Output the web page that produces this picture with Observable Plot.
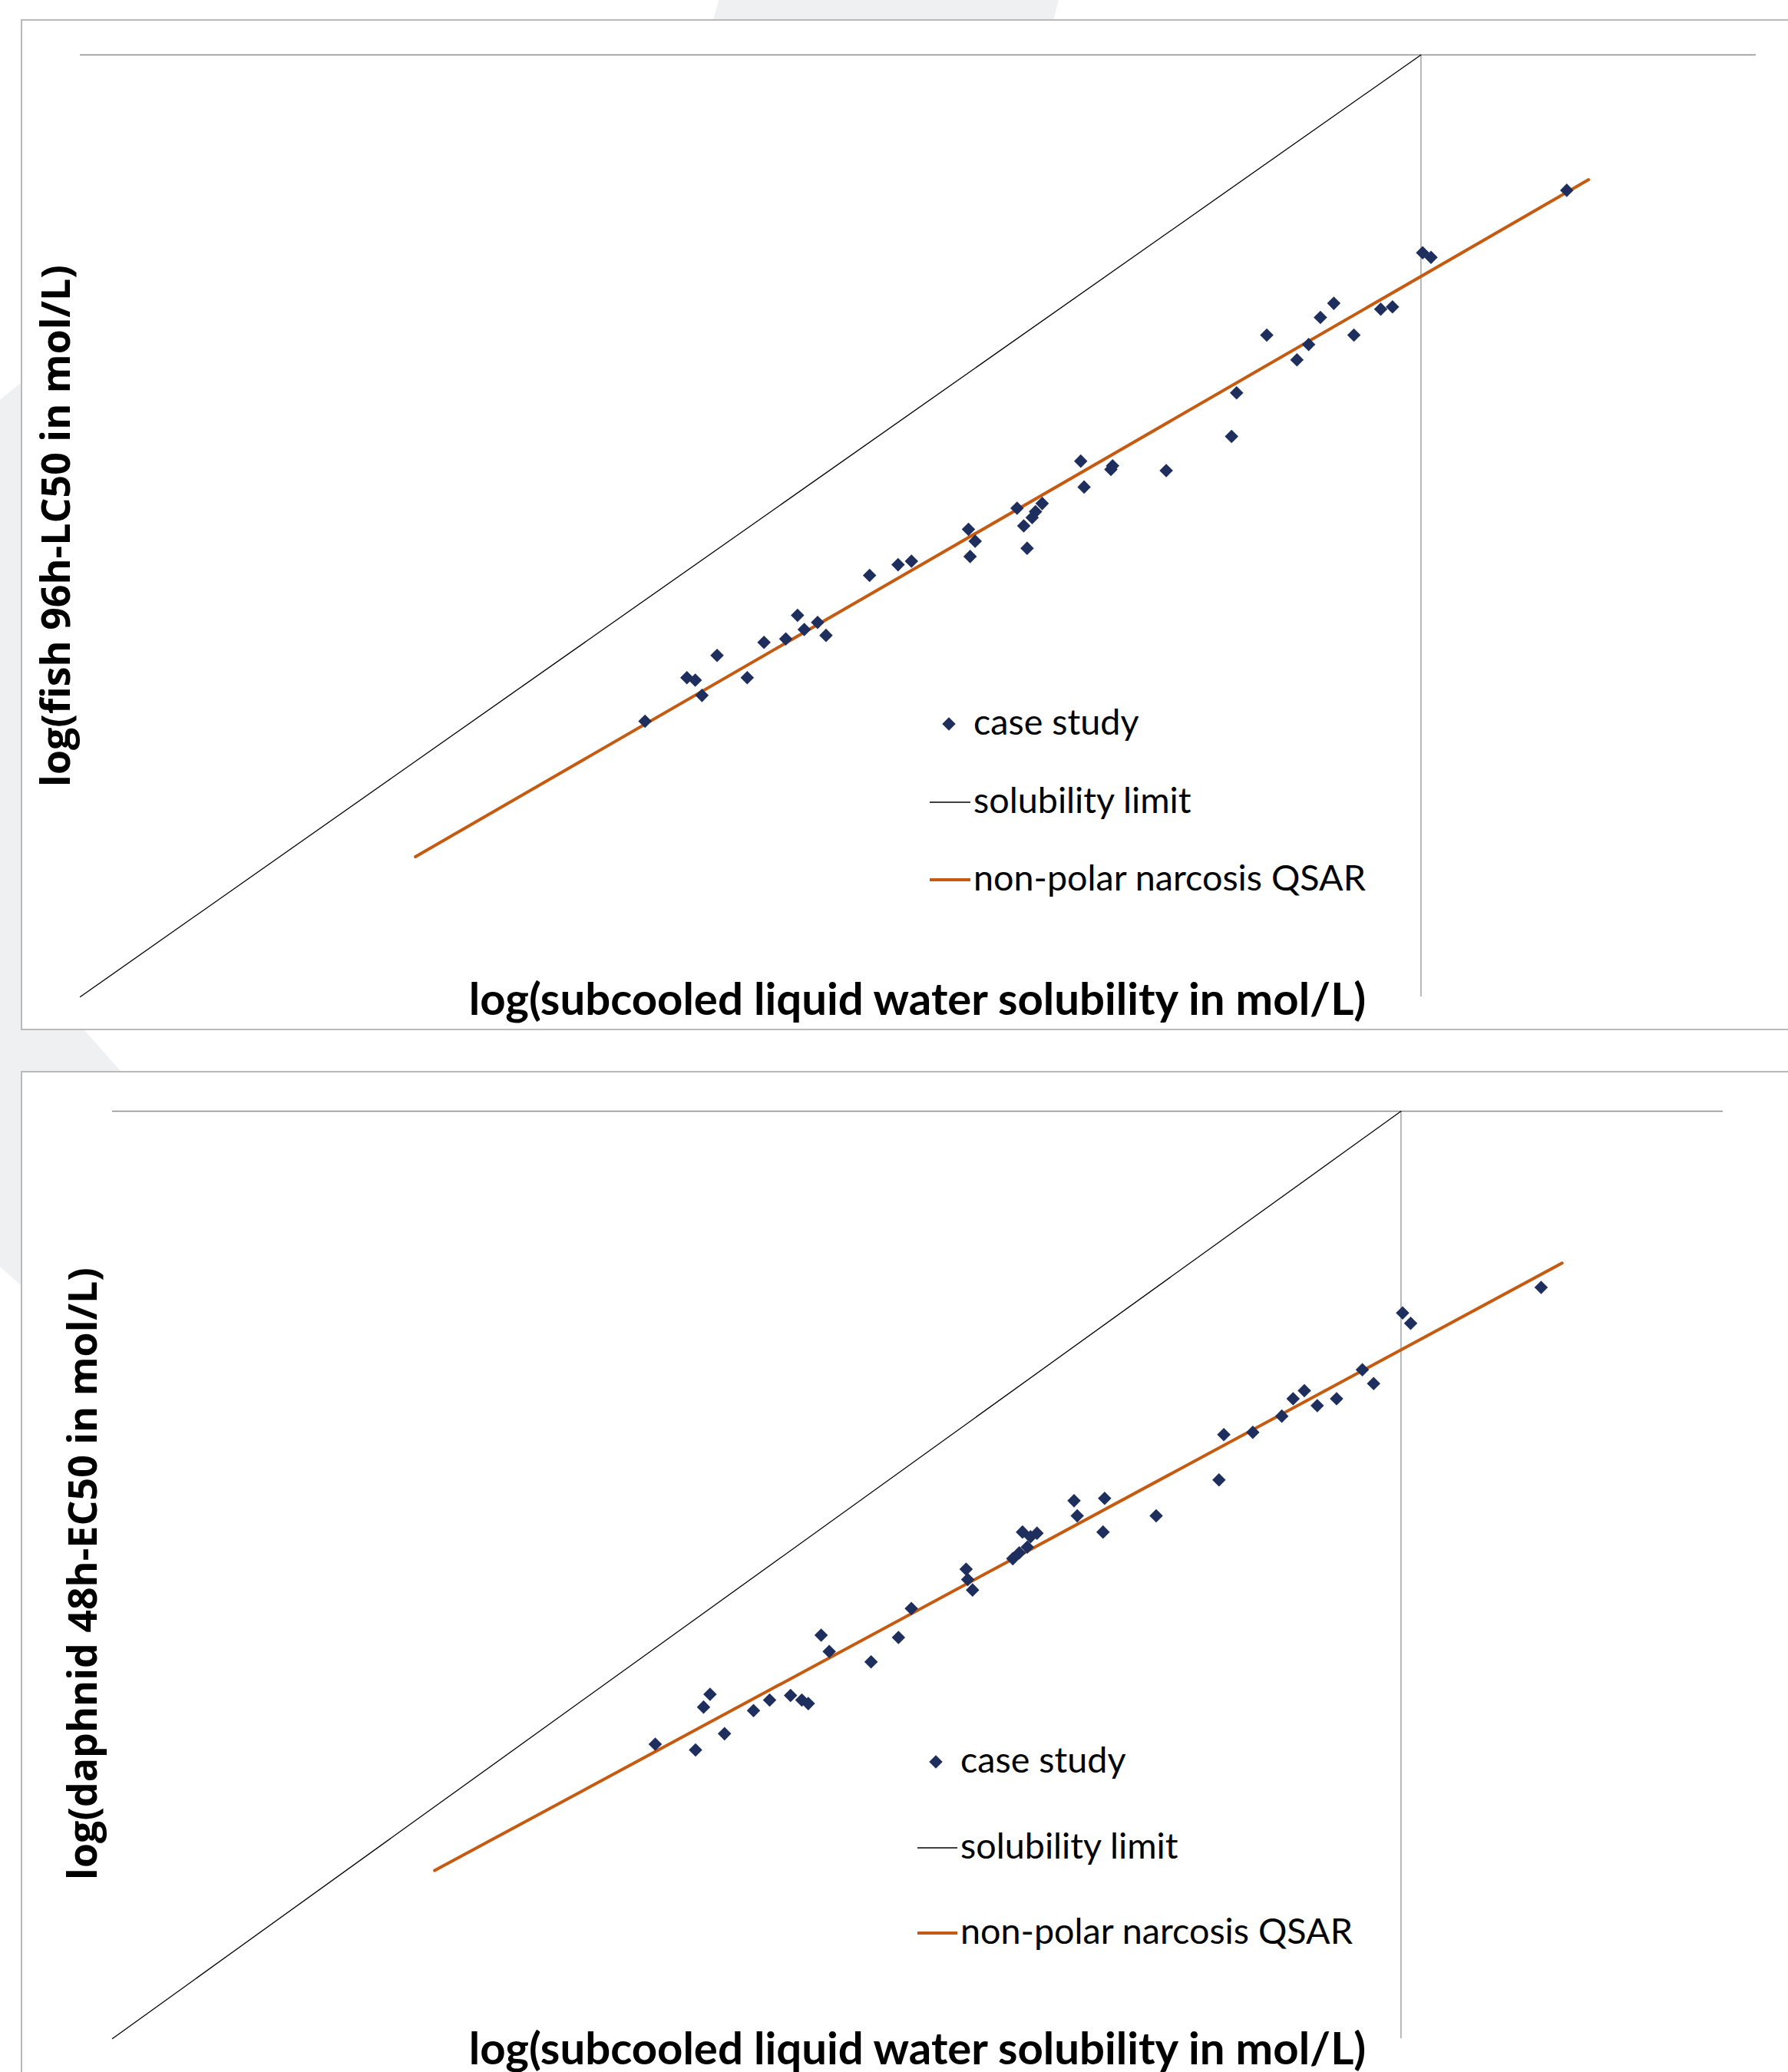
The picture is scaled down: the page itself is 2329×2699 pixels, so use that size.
<!DOCTYPE html>
<html>
<head>
<meta charset="utf-8">
<script src="https://cdn.jsdelivr.net/npm/d3@7"></script>
<script src="https://cdn.jsdelivr.net/npm/@observablehq/plot@0.6"></script>
<style>
  html, body { margin: 0; padding: 0; background: #ffffff; overflow: hidden; }
  #page { position: relative; width: 2329px; height: 2699px; overflow: hidden; background: #ffffff; }
  #page svg { position: absolute; left: 0; }
</style>
</head>
<body>
<div id="page"></div>
<script>
// ---------------- data ----------------
// shared x: log(subcooled liquid water solubility in mol/L), same substances in both panels
const logSw = [-4.63, -4.38, -4.33, -4.29, -4.20, -4.02, -3.92, -3.79, -3.72, -3.68,
               -3.60, -3.55, -3.29, -3.12, -3.04, -2.70, -2.69, -2.66, -2.41, -2.37,
               -2.35, -2.32, -2.30, -2.26, -2.03, -2.01, -1.85, -1.84, -1.52, -1.13,
               -1.10, -0.92, -0.74, -0.67, -0.60, -0.52, -0.40, -0.24, -0.17, 0.01,
               0.06, 0.87];
// log(fish 96h-LC50 in mol/L)
const fishLC50 = [-5.66, -5.29, -5.31, -5.44, -5.10, -5.29, -4.99, -4.96, -4.76, -4.88,
                  -4.82, -4.93, -4.42, -4.33, -4.30, -4.03, -4.26, -4.13, -3.85, -4.00,
                  -4.19, -3.93, -3.88, -3.81, -3.45, -3.67, -3.52, -3.49, -3.53, -3.24,
                  -2.87, -2.38, -2.59, -2.46, -2.23, -2.11, -2.38, -2.16, -2.14, -1.68,
                  -1.72, -1.15];
// log(daphnid 48h-EC50 in mol/L)
const daphnidEC50 = [-5.46, -5.51, -5.14, -5.03, -5.37, -5.17, -5.08, -5.04, -5.08, -5.11,
                     -4.52, -4.66, -4.75, -4.54, -4.29, -3.95, -4.04, -4.13, -3.86, -3.81,
                     -3.63, -3.76, -3.67, -3.64, -3.36, -3.49, -3.63, -3.34, -3.49, -3.18,
                     -2.79, -2.77, -2.63, -2.48, -2.41, -2.54, -2.48, -2.23, -2.35, -1.74,
                     -1.83, -1.52];
// solubility limit: y = x
const limitX = [-8, 0];
// non-polar narcosis QSAR end points
const fishQsarX = [-6, 1];
const fishQsarY = [-6.81, -1.06];
const daphQsarX = [-6, 1];
const daphQsarY = [-6.55, -1.31];
// axis domains
const xDomain = [-8, 2];
const yDomain = [-8, 0];
// texts
const xTitle = "log(subcooled liquid water solubility in mol/L)";
const yTitles = ["log(fish 96h-LC50 in mol/L)", "log(daphnid 48h-EC50 in mol/L)"];
const legendLabels = ["case study", "solubility limit", "non-polar narcosis QSAR"];

// ---------------- styles ----------------
const W = 2329, H = 2699;
const navy = "#1f2f5d", orange = "#c55a11", decor = "#eff0f2", boxStroke = "#b9b9b9";
const dotR = 7.9;

const page = d3.select("#page");

// background decoration and panel boxes
const bg = page.append("svg").attr("width", W).attr("height", H).style("top", "0px");
bg.append("polygon").attr("points", "936,0 1379,0 1369,38 926,38").attr("fill", decor);
bg.append("polygon").attr("points", "0,521 45,484 64,1290 179,1420 45,1690 0,1650").attr("fill", decor);
bg.append("rect").attr("x", 28).attr("y", 26).attr("width", 2400).attr("height", 1315)
  .attr("fill", "#fff").attr("stroke", boxStroke).attr("stroke-width", 2);
bg.append("rect").attr("x", 28).attr("y", 1396).attr("width", 2400).attr("height", 1400)
  .attr("fill", "#fff").attr("stroke", boxStroke).attr("stroke-width", 2);

function makeChart(yVals, qx, qy, layout) {
  const pts = logSw.map((x, i) => ({x, y: yVals[i]}));
  const lim = limitX.map(v => ({x: v, y: v}));
  const qsar = qx.map((x, i) => ({x, y: qy[i]}));
  const svg = Plot.plot({
    width: W,
    height: layout.height,
    marginLeft: layout.ml, marginRight: layout.mr, marginTop: layout.mt, marginBottom: layout.mb,
    x: {domain: xDomain, axis: null},
    y: {domain: yDomain, axis: null},
    style: {background: "transparent", overflow: "visible"},
    marks: [
      Plot.ruleY([0], {stroke: "#8c8c8c", strokeWidth: 1.6}),
      Plot.ruleX([0], {stroke: "#a8a8a8", strokeWidth: 1.6}),
      Plot.line(lim, {x: "x", y: "y", stroke: "#000", strokeWidth: 1.3}),
      Plot.line(qsar, {x: "x", y: "y", stroke: orange, strokeWidth: 4}),
      Plot.dot(pts, {x: "x", y: "y", symbol: "diamond2", r: dotR, fill: navy})
    ]
  });
  svg.style.top = layout.top + "px";
  svg.style.left = "0px";
  page.node().appendChild(svg);
}

makeChart(fishLC50, fishQsarX, fishQsarY, {top: 0, height: 1341, ml: 104, mr: 42, mt: 71, mb: 43});
makeChart(daphnidEC50, daphQsarX, daphQsarY, {top: 1396, height: 1303, ml: 146, mr: 85, mt: 51, mb: 44});

// ---------------- titles and legends (overlay) ----------------
const ov = page.append("svg").attr("width", W).attr("height", H).style("top", "0px")
  .style("pointer-events", "none");

function fit(sel, target) {
  const w = sel.node().getComputedTextLength();
  const fs = parseFloat(sel.attr("font-size"));
  sel.attr("font-size", fs * target / w);
  return fs * target / w;
}

const titleFont = "Lato, 'Open Sans', sans-serif";
const yFont = "'Open Sans', Lato, sans-serif";

// x titles
[[1195, 1322], [1195, 2689]].forEach(([cx, by]) => {
  const t = ov.append("text").attr("x", cx).attr("y", by).attr("text-anchor", "middle")
    .attr("font-family", titleFont).attr("font-weight", 700).attr("font-size", 56)
    .attr("fill", "#000").text(xTitle);
  fit(t, 1169);
});

// y titles
[[91, 685, 680], [126, 2050, 798]].forEach(([bx, cy, len], i) => {
  const t = ov.append("text").attr("transform", `translate(${bx},${cy}) rotate(-90)`)
    .attr("text-anchor", "middle").attr("font-family", yFont).attr("font-weight", 700)
    .attr("font-size", 46).attr("fill", "#000").text(yTitles[i]);
  fit(t, len);
});

// legends
const legends = [
  {mx: 1236, lx0: 1211, lx1: 1264, tx: 1268, rows: [943, 1045, 1146]},
  {mx: 1219, lx0: 1195, lx1: 1247, tx: 1251, rows: [2295, 2407, 2518]}
];
const diamond = d3.symbol(d3.symbolDiamond2, Math.PI * dotR * dotR)();
legends.forEach(L => {
  const probe = ov.append("text").attr("font-family", titleFont).attr("font-size", 45).text(legendLabels[2]);
  const fs = fit(probe, 511);
  probe.remove();
  ov.append("path").attr("d", diamond).attr("transform", `translate(${L.mx},${L.rows[0]})`).attr("fill", navy);
  ov.append("line").attr("x1", L.lx0).attr("x2", L.lx1).attr("y1", L.rows[1]).attr("y2", L.rows[1])
    .attr("stroke", "#000").attr("stroke-width", 1.3);
  ov.append("line").attr("x1", L.lx0).attr("x2", L.lx1).attr("y1", L.rows[2]).attr("y2", L.rows[2])
    .attr("stroke", orange).attr("stroke-width", 4);
  legendLabels.forEach((lab, i) => {
    ov.append("text").attr("x", L.tx).attr("y", L.rows[i] + fs * 0.3)
      .attr("font-family", titleFont).attr("font-size", fs).attr("fill", "#000").text(lab);
  });
});
</script>
</body>
</html>
